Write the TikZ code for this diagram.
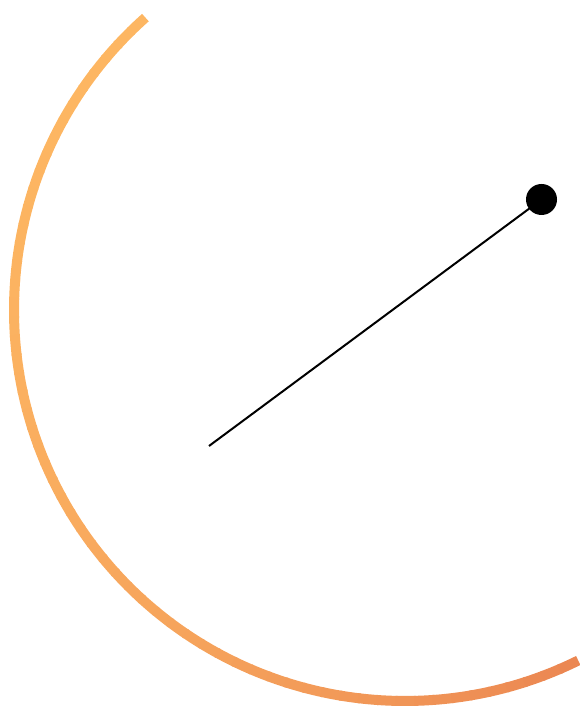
\documentclass[tikz,border=0pt]{standalone}
\usepackage{tikz}

\definecolor{arcStart}{RGB}{253,182,98}
\definecolor{arcEnd}{RGB}{235,135,82}

\begin{document}
\begin{tikzpicture}[
        x=1pt, y=1pt,
        arcpen/.style={line width=10pt, line cap=butt},
        handpen/.style={black, line width=2pt},
        tipdot/.style={circle, fill=black, minimum size=31pt, inner sep=0pt}
    ]
        \useasboundingbox (0,0) rectangle (580,709);

        % Centre of the arc and the hand
        \coordinate (centre) at (405,399);
        \coordinate (hub) at (209,263);
        \node[tipdot] (tip) at (541.5,509.5) {};

        % Arc, coloured piece by piece
        \foreach \i in {0,...,59} {
            \pgfmathsetmacro{\a}{131.6 + \i*164.4/60}
            \pgfmathsetmacro{\b}{131.6 + (\i+1)*164.4/60 + 0.3}
            \pgfmathtruncatemacro{\pct}{100*(\i/59)^2}
            \draw[arcpen, color=arcEnd!\pct!arcStart]
                ([shift={(\a:391pt)}]centre) arc[start angle=\a, end angle=\b, radius=391pt];
        }

        % Hand from hub to tip
        \draw[handpen] (hub) -- (tip.center);
    \end{tikzpicture}
\end{document}
